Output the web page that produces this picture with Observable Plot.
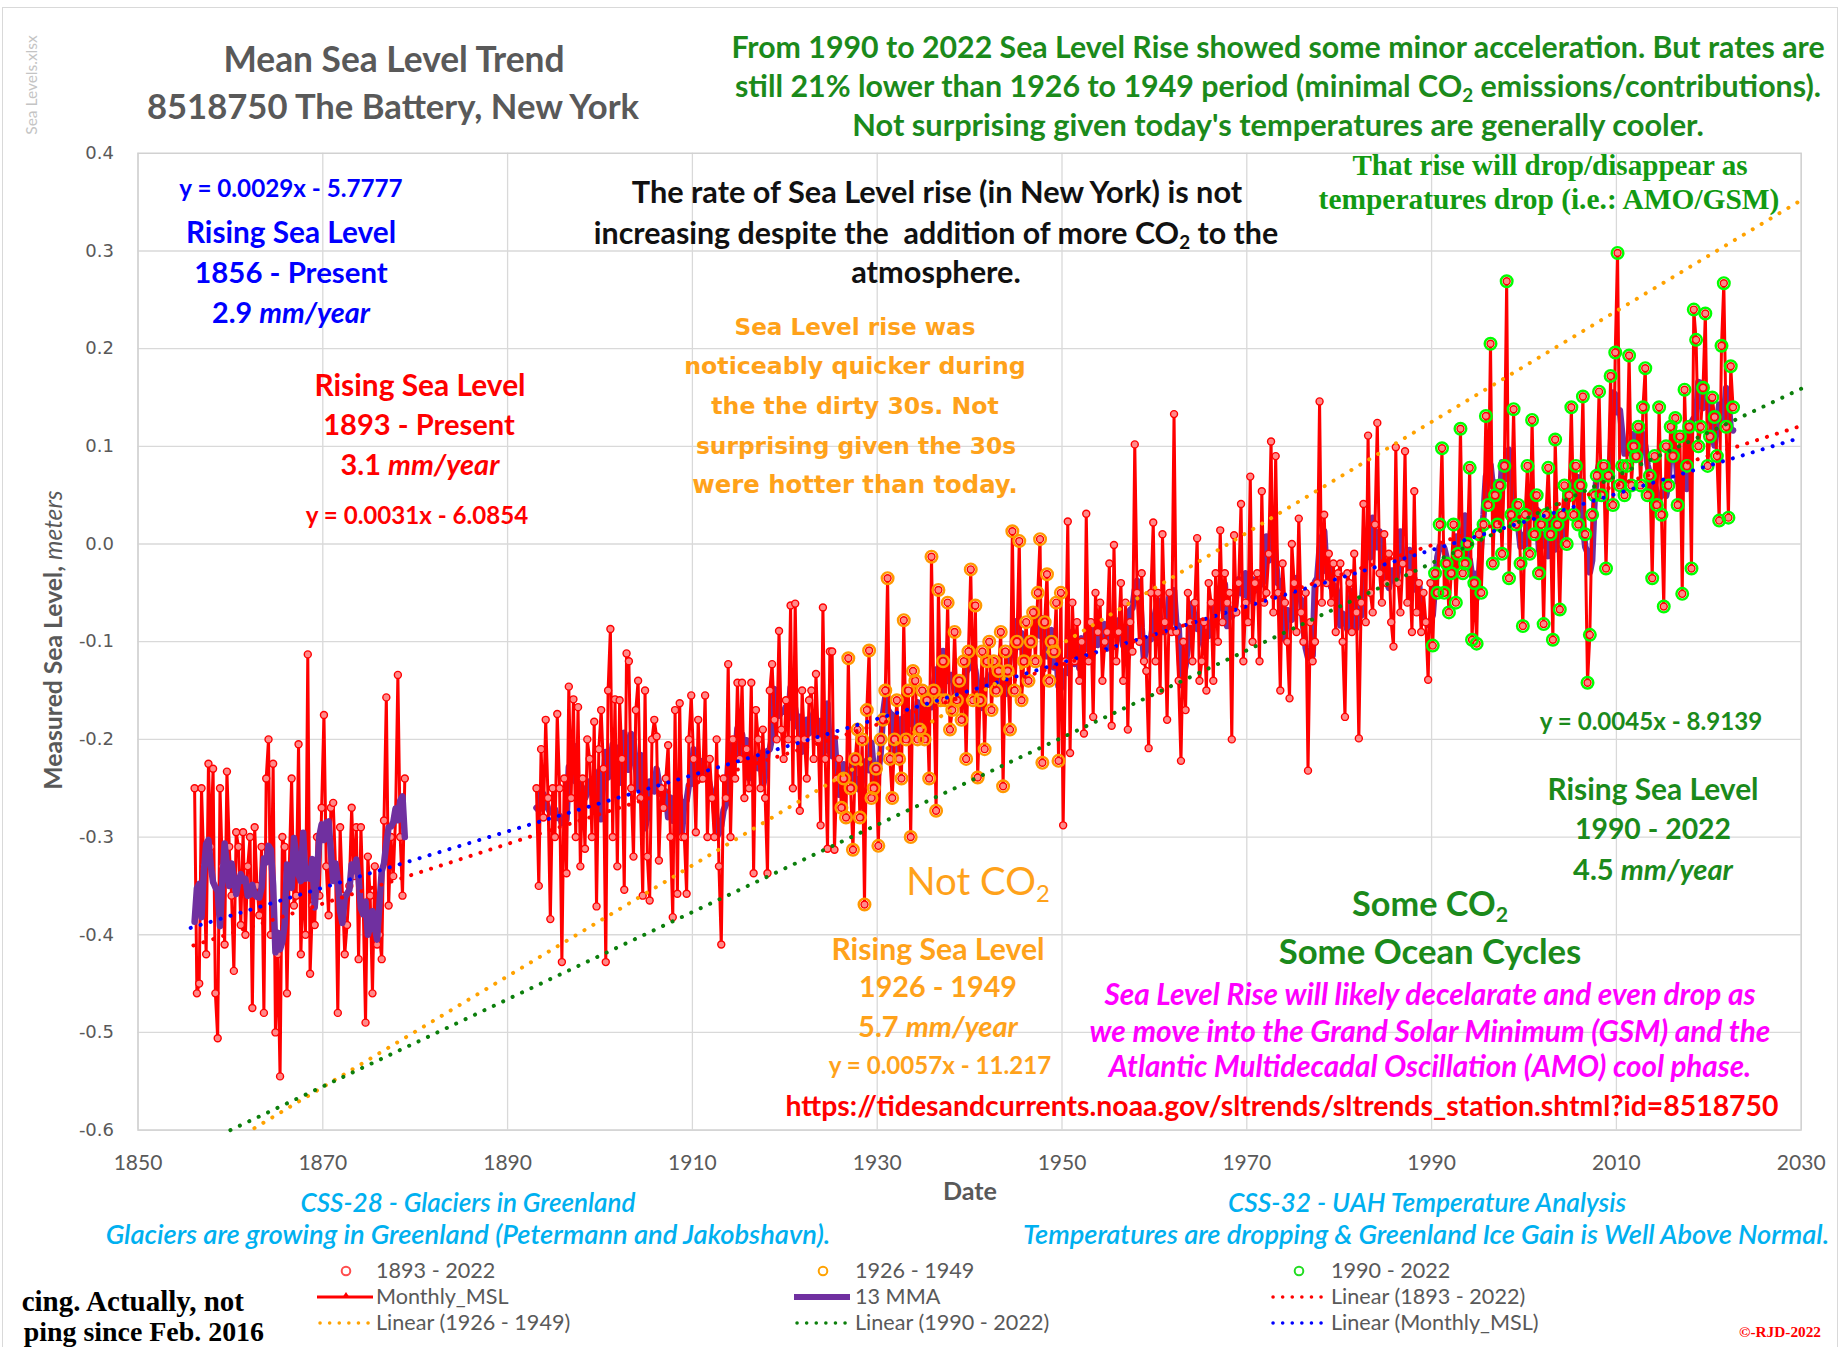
<!DOCTYPE html>
<html><head><meta charset="utf-8">
<script src="https://cdn.jsdelivr.net/npm/d3@7"></script>
<script src="https://cdn.jsdelivr.net/npm/@observablehq/plot@0.6"></script>
<style>
body{margin:0;background:#fff}
#wrap{position:relative;width:1843px;height:1347px;overflow:hidden;background:#fff}
#chart{position:absolute;left:0;top:0}
#border{position:absolute;left:2px;top:7px;width:1836px;height:1400px;border:1.5px solid #d9d9d9;box-sizing:border-box}
.t{position:absolute;white-space:nowrap;line-height:1;transform:translate(-50%,-50%)}
.t sub{font-size:0.62em;vertical-align:-0.3em;line-height:0}
.lg{position:absolute;white-space:nowrap;line-height:1;font-family:Lato;font-size:21.6px;color:#595959;transform:translateY(-50%)}
.ls{position:absolute;overflow:visible}
</style></head><body>
<div id="wrap"><div id="border"></div><div id="chart"></div></div>
<script>
// ---------------- data (quarterly estimates) ----------------
const earlyStartYear = 1856;
const earlyMSL = [
-0.25,-0.46,-0.45,-0.25, -0.33,-0.42,-0.225,-0.31, -0.23,-0.46,-0.506,-0.25, -0.33,-0.41,-0.233,-0.31,
-0.36,-0.437,-0.295,-0.31, -0.39,-0.295,-0.40,-0.33, -0.30,-0.475,-0.29,-0.35, -0.38,-0.31,-0.48,-0.24,
-0.20,-0.40,-0.225,-0.50, -0.42,-0.545,-0.30,-0.31, -0.46,-0.33,-0.24,-0.37, -0.36,-0.205,-0.42,-0.34,
-0.40,-0.113,-0.44,-0.37, -0.39,-0.30,-0.36,-0.27, -0.175,-0.33,-0.38,-0.27, -0.265,-0.33,-0.48,-0.29,
-0.36,-0.42,-0.39,-0.35, -0.27,-0.34,-0.29,-0.425, -0.29,-0.37,-0.49,-0.32, -0.36,-0.46,-0.33,-0.41,
-0.40,-0.425,-0.283,-0.157, -0.37,-0.30,-0.34,-0.28, -0.134,-0.30,-0.36,-0.24
];
const mainStartYear = 1893;
const mainMSL = [
-0.25,-0.35,-0.21,-0.28, -0.18,-0.26,-0.384,-0.25, -0.30,-0.174,-0.25,-0.428, -0.24,-0.337,-0.146,-0.26,
-0.159,-0.30,-0.167,-0.33, -0.24,-0.312,-0.20,-0.22, -0.30,-0.182,-0.371,-0.21, -0.17,-0.23,-0.428,-0.15,
-0.087,-0.30,-0.159,-0.33, -0.16,-0.22,-0.354,-0.112, -0.12,-0.25,-0.32,-0.17, -0.14,-0.26,-0.36,-0.15,
-0.32,-0.365,-0.20,-0.18, -0.197,-0.324,-0.25,-0.27, -0.24,-0.206,-0.30,-0.382, -0.17,-0.358,-0.163,-0.30,
-0.30,-0.358,-0.20,-0.155, -0.22,-0.295,-0.18,-0.24, -0.24,-0.155,-0.30,-0.22, -0.26,-0.30,-0.20,-0.33,
-0.41,-0.24,-0.26,-0.123, -0.30,-0.20,-0.24,-0.142, -0.22,-0.142,-0.26,-0.21, -0.25,-0.142,-0.337,-0.17,
-0.20,-0.25,-0.19,-0.26, -0.337,-0.15,-0.123,-0.18, -0.20,-0.089,-0.19,-0.22, -0.16,-0.20,-0.063,-0.25,
-0.061,-0.20,-0.273,-0.15, -0.20,-0.24,-0.16,-0.15, -0.22,-0.133,-0.20,-0.288, -0.065,-0.22,-0.312,-0.11,
-0.11,-0.313,-0.24,-0.22, -0.27,-0.24,-0.28,-0.117, -0.25,-0.313,-0.22,-0.19, -0.28,-0.20,-0.369,-0.17,
-0.109,-0.26,-0.25,-0.23, -0.309,-0.20,-0.18,-0.15, -0.035,-0.22,-0.26,-0.20, -0.16,-0.22,-0.24,-0.078,
-0.20,-0.15,-0.30,-0.13, -0.14,-0.20,-0.19,-0.15, -0.20,-0.16,-0.24,-0.013, -0.15,-0.273,-0.047,-0.16,
-0.12,-0.16,-0.06,-0.19, -0.17,-0.09,-0.16,-0.14, -0.18,-0.12,-0.22,-0.11, -0.026,-0.16,-0.063,-0.239,
-0.16,-0.11,-0.21,-0.12, -0.10,-0.17,-0.12,-0.15, -0.13,-0.09,-0.248,-0.11, -0.13,-0.19,0.013,-0.15,
-0.10,0.003,-0.16,-0.12, -0.08,-0.14,-0.10,-0.07, -0.12,-0.05,0.005,-0.224, -0.08,-0.031,-0.14,-0.10,
-0.11,-0.06,-0.222,-0.05, -0.288,-0.12,0.023,-0.214, -0.06,-0.12,-0.08,-0.14, -0.10,-0.194,0.031,-0.12,
-0.08,-0.177,-0.05,-0.09, -0.06,-0.14,-0.10,-0.09, -0.02,-0.186,-0.001,-0.12, -0.09,-0.04,-0.14,-0.06,
-0.19,-0.08,-0.11,0.102, -0.05,-0.10,-0.03,-0.12, -0.13,-0.209,-0.05,0.022, -0.12,-0.05,-0.15,0.01,
-0.08,-0.18,-0.05,-0.09, 0.133,-0.09,-0.14,-0.222, -0.10,-0.17,-0.05,-0.08, -0.12,-0.06,0.006,-0.14,
-0.12,-0.08,-0.15,-0.04, -0.06,-0.14,-0.03,-0.10, 0.014,-0.08,-0.03,-0.06, -0.05,-0.20,0.009,-0.07,
-0.04,0.041,-0.12,-0.06, -0.08,0.069,-0.10,-0.04, -0.03,-0.12,0.054,-0.06, -0.05,-0.01,0.105,-0.07,
0.09,-0.05,-0.15,-0.02, -0.06,-0.10,-0.158,0.0, -0.04,-0.09,0.026,-0.07, -0.10,-0.05,-0.232,-0.08,
-0.12,-0.10,-0.04,0.146, -0.06,0.03,-0.04,-0.01, -0.06,-0.02,-0.09,-0.03, -0.02,-0.10,-0.177,-0.03,
-0.04,-0.09,-0.01,-0.07, -0.199,-0.06,0.041,-0.08, 0.111,-0.05,-0.07,0.02, 0.124,-0.03,-0.06,0.01,
-0.04,-0.01,-0.08,-0.105, 0.099,-0.04,-0.07,-0.02, 0.095,-0.06,-0.03,-0.09, 0.054,-0.07,-0.04,-0.09,
-0.05,-0.08,-0.139,-0.04, -0.104,-0.03,-0.05,0.02, 0.098,-0.05,-0.02,-0.07, -0.03,0.02,-0.06,-0.01,
0.118,-0.03,-0.02,0.0, 0.078,-0.098,-0.04,-0.102, 0.01,-0.05,0.02,0.131, 0.04,0.205,-0.02,0.05,
0.02,0.06,-0.01,0.08, 0.269,-0.035,0.03,0.138, 0.02,0.04,-0.02,-0.084, 0.03,0.08,-0.01,0.127,
0.01,0.05,-0.03,0.02, -0.082,0.03,0.078,0.01, -0.098,0.107,0.02,-0.067, 0.03,0.06,0.0,0.05,
0.14,0.03,0.08,0.02, 0.06,0.151,0.01,-0.142, -0.093,0.03,0.05,0.07, 0.156,0.05,0.08,-0.025,
0.07,0.172,0.04,0.196, 0.298,0.06,0.08,0.05, 0.08,0.193,0.06,0.10, 0.09,0.12,0.06,0.14,
0.18,0.05,0.07,-0.035, 0.09,0.04,0.14,0.03, -0.064,0.10,0.06,0.12, 0.09,0.129,0.04,0.11,
-0.051,0.158,0.08,0.12, -0.025,0.24,0.209,0.10, 0.12,0.16,0.236,0.08, 0.11,0.15,0.13,0.09,
0.024,0.203,0.267,0.12, 0.027,0.182,0.14
];
const periodOrange = [1926, 1950];   // "1926 - 1949"
const periodGreen = [1990, 2023];    // "1990 - 2022"
// trend lines as drawn (start/end)
const trendNames = ["Linear (Monthly_MSL)", "Linear (1893 - 2022)", "Linear (1926 - 1949)", "Linear (1990 - 2022)"];
const trendStartYear = [1855.7, 1856, 1862.6, 1860];
const trendStartValue = [-0.393, -0.411, -0.598, -0.600];
const trendEndYear = [2030, 2030, 2030, 2030];
const trendEndValue = [0.109, 0.121, 0.352, 0.159];
const trendColors = ["#0000ff", "#ff0000", "#ffa200", "#0c7f0c"];
const xTicks = [1850, 1870, 1890, 1910, 1930, 1950, 1970, 1990, 2010, 2030];
const yTicks = [-0.6, -0.5, -0.4, -0.3, -0.2, -0.1, 0, 0.1, 0.2, 0.3, 0.4];

// ---------------- build tables ----------------
const rows = [];
earlyMSL.forEach((v, i) => rows.push({year: earlyStartYear + (i + 0.5) / 4, value: v, seg: "early"}));
mainMSL.forEach((v, i) => rows.push({year: mainStartYear + (i + 0.5) / 4, value: v, seg: "main"}));
const earlyRows = rows.filter(d => d.seg === "early");
const mainRows = rows.filter(d => d.seg === "main");
const orangeRows = mainRows.filter(d => d.year >= periodOrange[0] && d.year < periodOrange[1]);
const greenRows = mainRows.filter(d => d.year >= periodGreen[0] && d.year < periodGreen[1]);
const trends = trendNames.map((n, i) => ({name: n, x1: trendStartYear[i], y1: trendStartValue[i], x2: trendEndYear[i], y2: trendEndValue[i], c: trendColors[i]}));

const grid = {stroke: "#d9d9d9", strokeOpacity: 1, strokeWidth: 1.3};
const redLine = {x: "year", y: "value", stroke: "#ff0000", strokeWidth: 3};
const redDot = {x: "year", y: "value", r: 3.5, fill: "#ff8a8a", stroke: "#ff0000", strokeWidth: 1.4};
const mma = {x: "year", y: "value", stroke: "#7030a0", strokeWidth: 6.5};
const chart = Plot.plot({
  width: 1843, height: 1200,
  marginLeft: 137.5, marginRight: 42.3, marginTop: 152.8, marginBottom: 70.4,
  style: {background: "transparent"},
  x: {domain: [1850, 2030], label: null},
  y: {domain: [-0.6, 0.4], label: null},
  marks: [
    Plot.gridX(xTicks, grid),
    Plot.gridY(yTicks, grid),
    Plot.frame({stroke: "#d0d0d0", strokeWidth: 1.3}),
    Plot.line(mainRows, Plot.windowY({k: 5}, mma)),
    Plot.line(mainRows, redLine),
    Plot.line(earlyRows, redLine),
    Plot.dot(earlyRows, redDot),
    Plot.line(earlyRows, Plot.windowY({k: 5}, mma)),
    Plot.dot(mainRows, redDot),
    Plot.dot(orangeRows, {x: "year", y: "value", r: 5.8, fill: "none", stroke: "#ff9900", strokeWidth: 2.4}),
    Plot.dot(greenRows, {x: "year", y: "value", r: 5.8, fill: "none", stroke: "#00ff00", strokeWidth: 2.4}),
    Plot.link(trends, {x1: "x1", y1: "y1", x2: "x2", y2: "y2", stroke: "c", strokeWidth: 4, strokeDasharray: "0.1 10.3", strokeLinecap: "round"}),
    Plot.axisX({ticks: xTicks, tickSize: 0, tickPadding: 25, fontSize: 21, fontFamily: "Lato", fill: "#595959", tickFormat: d => String(d), label: null}),
    Plot.axisY({ticks: yTicks, tickSize: 0, tickPadding: 24, fontSize: 18, fontFamily: "DejaVu Sans", fill: "#595959", tickFormat: d => d.toFixed(1), label: null})
  ]
});
document.getElementById("chart").appendChild(chart);

// ---------------- text annotations ----------------
const wrap = document.getElementById("wrap");
function addText(html, cx, cy, w, o = {}) {
  const el = document.createElement("div");
  el.className = "t";
  el.innerHTML = html;
  el.style.left = cx + "px";
  el.style.top = cy + "px";
  el.style.color = o.color || "#000";
  el.style.fontFamily = o.font || "Lato";
  el.style.fontWeight = o.weight || 700;
  el.style.fontStyle = o.italic ? "italic" : "normal";
  el.style.fontSize = (o.size || 20) + "px";
  wrap.appendChild(el);
  if (w) {
    const m = el.offsetWidth;
    el.style.fontSize = ((o.size || 20) * w / m) + "px";
  }
  let tr = o.anchor === "end" ? "translate(-100%,-50%)" : "translate(-50%,-50%)";
  if (o.rotate) tr += ` rotate(${o.rotate}deg)`;
  el.style.transform = tr;
  return el;
}
const GREY = "#595959", GREEN = "#1b8a1b", BLUE = "#0000ff", RED = "#ff0000", ORANGE = "#ffa21a", MAG = "#ff00ff", CYAN = "#00b0f0";
const ital = s => `<i>${s}</i>`;

addText("Sea Levels.xlsx", 32, 85, 100, {color: "#c4c4c4", weight: 400, rotate: -90, size: 11});
addText("Mean Sea Level Trend", 394, 59, 341, {color: GREY});
addText("8518750 The Battery, New York", 393, 106, 492, {color: GREY});

addText("From 1990 to 2022 Sea Level Rise showed some minor acceleration. But rates are", 1278, 46, 1094, {color: GREEN});
addText("still 21% lower than 1926 to 1949 period (minimal CO<sub>2</sub> emissions/contributions).", 1278, 85, 1087, {color: GREEN});
addText("Not surprising given today's temperatures are generally cooler.", 1278, 125, 852, {color: GREEN});

addText("That rise will drop/disappear as", 1550, 166, 396, {color: "#129a12", font: "Liberation Serif"});
addText("temperatures drop (i.e.: AMO/GSM)", 1549, 200, 461, {color: "#129a12", font: "Liberation Serif"});

addText("y = 0.0029x - 5.7777", 291, 188, 224, {color: BLUE});
addText("Rising Sea Level", 291, 232, 210, {color: BLUE});
addText("1856 - Present", 291, 272, 194, {color: BLUE});
addText("2.9 " + ital("mm/year"), 291, 312, 158, {color: BLUE});

addText("The rate of Sea Level rise (in New York) is not", 937, 192, 611, {color: "#111"});
addText("increasing despite the&nbsp; addition of more CO<sub>2</sub> to the", 936, 232, 684, {color: "#111"});
addText("atmosphere.", 936, 272, 169, {color: "#111"});

addText("Rising Sea Level", 420, 385, 211, {color: RED});
addText("1893 - Present", 419, 424, 192, {color: RED});
addText("3.1 " + ital("mm/year"), 420, 464, 159, {color: RED});
addText("y = 0.0031x - 6.0854", 417, 515, 223, {color: RED});

const VER = "DejaVu Sans";
addText("Sea Level rise was", 855, 327, 241, {color: ORANGE, font: VER});
addText("noticeably quicker during", 855, 367, 342, {color: ORANGE, font: VER});
addText("the the dirty 30s. Not", 855, 407, 288, {color: ORANGE, font: VER});
addText("surprising given the 30s", 856, 447, 320, {color: ORANGE, font: VER});
addText("were hotter than today.", 855, 485, 326, {color: ORANGE, font: VER});

addText("Not CO<sub>2</sub>", 978, 880, 144, {color: ORANGE, weight: 400});
addText("Rising Sea Level", 938, 948, 213, {color: ORANGE});
addText("1926 - 1949", 938, 986, 158, {color: ORANGE});
addText("5.7 " + ital("mm/year"), 938, 1026, 160, {color: ORANGE});
addText("y = 0.0057x - 11.217", 940, 1065, 223, {color: ORANGE});

addText("y = 0.0045x - 8.9139", 1651, 721, 223, {color: GREEN});
addText("Rising Sea Level", 1653, 789, 211, {color: GREEN});
addText("1990 - 2022", 1653, 828, 156, {color: GREEN});
addText("4.5 " + ital("mm/year"), 1653, 869, 160, {color: GREEN});
addText("Some CO<sub>2</sub>", 1430, 903, 156, {color: GREEN});
addText("Some Ocean Cycles", 1430, 951, 302, {color: GREEN});

addText("Sea Level Rise will likely decelarate and even drop as", 1430, 994, 652, {color: MAG, italic: true});
addText("we move into the Grand Solar Minimum (GSM) and the", 1430, 1031, 681, {color: MAG, italic: true});
addText("Atlantic Multidecadal Oscillation (AMO) cool phase.", 1430, 1066, 643, {color: MAG, italic: true});
addText("https://tidesandcurrents.noaa.gov/sltrends/sltrends_station.shtml?id=8518750", 1282, 1105, 994, {color: RED});

addText("Date", 970, 1191, 54, {color: GREY});
addText("Measured Sea Level, <i style='font-weight:400'>meters</i>", 53, 640, 299, {color: GREY, rotate: -90});

addText("CSS-28 - Glaciers in Greenland", 468, 1202, 335, {color: CYAN, italic: true, weight: 600});
addText("Glaciers are growing in Greenland (Petermann and Jakobshavn).", 468, 1234, 725, {color: CYAN, italic: true, weight: 600});
addText("CSS-32 - UAH Temperature Analysis", 1427, 1202, 398, {color: CYAN, italic: true, weight: 600});
addText("Temperatures are dropping &amp; Greenland Ice Gain is Well Above Normal.", 1426, 1234, 807, {color: CYAN, italic: true, weight: 600});

addText("cing. Actually, not", 244, 1302, 222, {color: "#000", font: "Liberation Serif", anchor: "end"});
addText("ping since Feb. 2016", 264, 1332, 240, {color: "#000", font: "Liberation Serif", anchor: "end"});
addText("©-RJD-2022", 1780, 1332, 82, {color: RED, font: "Liberation Serif"});

// ---------------- legend ----------------
const legendLabels = [
  ["1893 - 2022", "Monthly_MSL", "Linear (1926 - 1949)"],
  ["1926 - 1949", "13 MMA", "Linear (1990 - 2022)"],
  ["1990 - 2022", "Linear (1893 - 2022)", "Linear (Monthly_MSL)"]
];
const legendKinds = [
  [["circle", "#ff4d4d"], ["line", "#ff0000"], ["dots", "#ffa200"]],
  [["circle", "#ffa200"], ["thick", "#7030a0"], ["dots", "#0c7f0c"]],
  [["circle", "#22dd22"], ["dots", "#ff0000"], ["dots", "#0000ff"]]
];
const colText = [376, 855, 1331], colSym = [317, 794, 1270], rowY = [1271, 1297, 1323];
legendLabels.forEach((col, ci) => col.forEach((lab, ri) => {
  const [kind, c] = legendKinds[ci][ri];
  const d = document.createElement("div");
  d.className = "lg"; d.textContent = lab;
  d.style.left = colText[ci] + "px"; d.style.top = rowY[ri] + "px";
  wrap.appendChild(d);
  const s = document.createElementNS("http://www.w3.org/2000/svg", "svg");
  s.setAttribute("class", "ls"); s.setAttribute("width", 60); s.setAttribute("height", 20);
  s.style.left = colSym[ci] + "px"; s.style.top = (rowY[ri] - 10) + "px";
  let inner = "";
  if (kind === "circle") inner = `<circle cx="29" cy="10" r="4.3" fill="#fff" stroke="${c}" stroke-width="2"/>`;
  if (kind === "line") inner = `<line x1="0" y1="10" x2="56" y2="10" stroke="${c}" stroke-width="3"/><path d="M29,5 L33,11 L25,11Z" fill="${c}"/>`;
  if (kind === "thick") inner = `<line x1="0" y1="10" x2="56" y2="10" stroke="${c}" stroke-width="6"/>`;
  if (kind === "dots") inner = `<line x1="3" y1="10" x2="52" y2="10" stroke="${c}" stroke-width="3.5" stroke-dasharray="0.1 9.5" stroke-linecap="round"/>`;
  s.innerHTML = inner;
  wrap.appendChild(s);
}));
</script>
</body></html>
